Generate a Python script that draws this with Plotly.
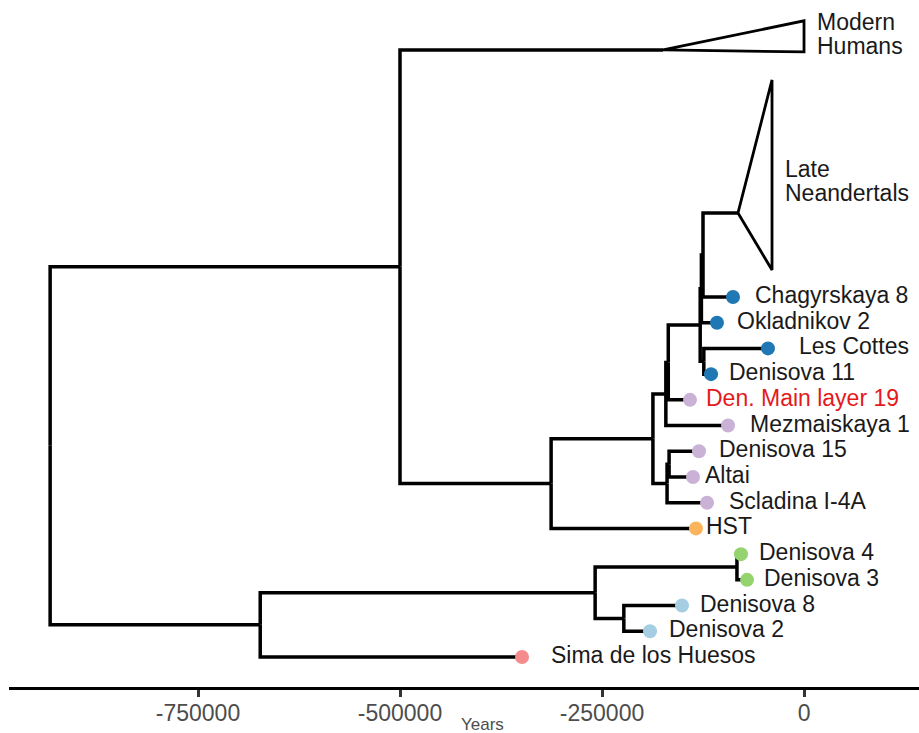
import plotly.graph_objects as go

# ---- tree data -------------------------------------------------------------
# Tips, listed from the bottom row of the tree to the top row
tip_names = [
    "Sima de los Huesos", "Denisova 2", "Denisova 8", "Denisova 3", "Denisova 4",
    "HST", "Scladina I-4A", "Altai", "Denisova 15", "Mezmaiskaya 1",
    "Den. Main layer 19", "Denisova 11", "Les Cottes", "Okladnikov 2", "Chagyrskaya 8",
]
tip_years = [
    -349000, -190600, -151000, -70500, -78000,
    -133700, -120000, -137400, -130000, -94000,
    -141100, -115100, -44600, -107700, -87900,
]
tip_parent = [
    "n_sima_den", "n_den_2_8", "n_den_2_8", "n_den_3_4", "n_den_3_4",
    "n_nean_hst", "n_e", "n_e1", "n_e1", "n_d",
    "n_x", "n_k", "n_k", "n_g", "n_m",
]
tip_group = [
    "Sima", "Denisovan B", "Denisovan B", "Denisovan A", "Denisovan A",
    "HST", "Neandertal early", "Neandertal early", "Neandertal early", "Neandertal early",
    "Neandertal early", "Neandertal late", "Neandertal late", "Neandertal late", "Neandertal late",
]

# Internal nodes (including the two collapsed clades)
node_names = [
    "root", "n_split", "Modern Humans", "n_nean_hst", "n_nean", "n_d", "n_x",
    "n_f", "n_g", "n_m", "Late Neandertals", "n_k", "n_e", "n_e1",
    "n_sima_den", "n_den", "n_den_3_4", "n_den_2_8",
]
node_years = [
    -933000, -500000, -174500, -313000, -187000, -171000, -168000,
    -128500, -127000, -125000, -81700, -124000, -169500, -167000,
    -673000, -258500, -83000, -223000,
]
node_parent = [
    None, "root", "n_split", "n_split", "n_nean_hst", "n_nean", "n_d",
    "n_x", "n_f", "n_g", "n_m", "n_f", "n_nean", "n_e",
    "root", "n_sima_den", "n_den", "n_den",
]

# Collapsed clades: row of the clade node, row span of the triangle, youngest age
collapsed_names = ["Modern Humans", "Late Neandertals"]
collapsed_row = [24.61, 18.27]
collapsed_lo = [24.53, 16.05]
collapsed_hi = [25.74, 23.44]
collapsed_tip_year = [0, -39600]
collapsed_label = [["Modern", "Humans"], ["Late", "Neandertals"]]

tick_vals = [-750000, -500000, -250000, 0]
tick_text = ["-750000", "-500000", "-250000", "0"]

# ---- styling ---------------------------------------------------------------
group_colors = {
    "Neandertal late": "#1f78b4",
    "Neandertal early": "#cab2d6",
    "HST": "#fbb45c",
    "Denisovan A": "#95d36f",
    "Denisovan B": "#a6cee3",
    "Sima": "#f58b8d",
}
highlight_label = {"Den. Main layer 19": "#e31a1c"}
# horizontal gap (px) between a tip point and its label
label_gap = {
    "Sima de los Huesos": 27, "Denisova 2": 17, "Denisova 8": 16, "Denisova 3": 15,
    "Denisova 4": 16, "HST": 8, "Scladina I-4A": 20, "Altai": 10, "Denisova 15": 18,
    "Mezmaiskaya 1": 20, "Den. Main layer 19": 14, "Denisova 11": 16,
    "Les Cottes": 29, "Okladnikov 2": 18, "Chagyrskaya 8": 20,
}
# vertical shift (px) of each collapsed-clade label block, and line spacing
clade_label_shift = [2, -6]
clade_line_gap = 24
FONT = "Liberation Sans, Arial, Helvetica, sans-serif"
LW = 3.5

# ---- layout of the tree (x = age, y = row) ---------------------------------
x_of = {}
y_of = {}
parent_of = {}
for n, yr, p in zip(tip_names, tip_years, tip_parent):
    x_of[n] = yr
    parent_of[n] = p
for i, n in enumerate(tip_names):
    y_of[n] = i + 1
for n, yr, p in zip(node_names, node_years, node_parent):
    x_of[n] = yr
    parent_of[n] = p
for n, r in zip(collapsed_names, collapsed_row):
    y_of[n] = r

children = {}
for n, p in parent_of.items():
    if p is not None:
        children.setdefault(p, []).append(n)


def row_of(n):
    if n not in y_of:
        ys = [row_of(c) for c in children[n]]
        y_of[n] = sum(ys) / len(ys)
    return y_of[n]


for n in node_names:
    row_of(n)

# elbow edges
ex, ey = [], []
for n, p in parent_of.items():
    if p is None:
        continue
    ex += [x_of[p], x_of[p], x_of[n], None]
    ey += [y_of[p], y_of[n], y_of[n], None]

fig = go.Figure()
fig.add_trace(go.Scatter(x=ex, y=ey, mode="lines",
                         line=dict(color="black", width=LW),
                         hoverinfo="skip", showlegend=False))

# collapsed clades drawn as triangles
for name, lo, hi, ty in zip(collapsed_names, collapsed_lo, collapsed_hi, collapsed_tip_year):
    fig.add_trace(go.Scatter(
        x=[x_of[name], ty, ty, x_of[name]],
        y=[y_of[name], hi, lo, y_of[name]],
        mode="lines", line=dict(color="black", width=2.8),
        hoverinfo="skip", showlegend=False))

# tip points
fig.add_trace(go.Scatter(
    x=tip_years, y=[y_of[n] for n in tip_names], mode="markers",
    marker=dict(size=14, color=[group_colors[g] for g in tip_group], line=dict(width=0)),
    text=tip_names, hoverinfo="text", showlegend=False))

annotations = []
for n in tip_names:
    annotations.append(dict(
        x=x_of[n], y=y_of[n], xref="x", yref="y", text=n, showarrow=False,
        xanchor="left", yanchor="middle", xshift=label_gap[n], yshift=2,
        font=dict(family=FONT, size=23, color=highlight_label.get(n, "#1a1a1a"))))
for lines, lo, hi, ty, sh in zip(collapsed_label, collapsed_lo, collapsed_hi,
                                 collapsed_tip_year, clade_label_shift):
    for k, line in enumerate(lines):
        annotations.append(dict(
            x=ty, y=(lo + hi) / 2, xref="x", yref="y", text=line, showarrow=False,
            xanchor="left", yanchor="middle", xshift=11,
            yshift=sh + clade_line_gap * (0.5 - k),
            font=dict(family=FONT, size=23, color="#1a1a1a")))
annotations.append(dict(
    x=0.52, y=-0.054, xref="paper", yref="paper", text="Years", showarrow=False,
    xanchor="center", yanchor="middle",
    font=dict(family=FONT, size=17, color="#4d4d4d")))

fig.update_layout(
    width=919, height=733,
    margin=dict(l=9, r=0, t=0, b=46),
    paper_bgcolor="white", plot_bgcolor="white",
    annotations=annotations,
    xaxis=dict(range=[-983900, 142300], showgrid=False, zeroline=False,
               showline=True, linecolor="black", linewidth=3,
               ticks="outside", ticklen=7, tickwidth=2.5, tickcolor="#333333",
               tickvals=tick_vals, ticktext=tick_text, ticklabelstandoff=-4,
               tickfont=dict(family=FONT, size=23, color="#4d4d4d")),
    yaxis=dict(range=[-0.167, 26.55], visible=False, showgrid=False, zeroline=False),
)

fig.write_html("out.html")
